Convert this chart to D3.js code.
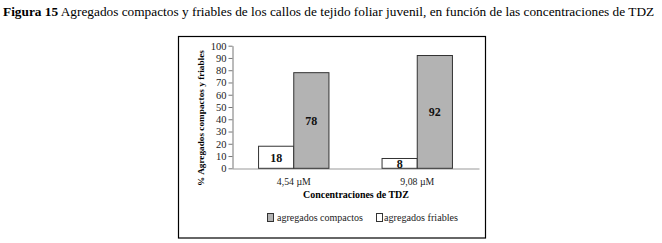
<!DOCTYPE html>
<html><head><meta charset="utf-8">
<script src="https://cdn.jsdelivr.net/npm/d3@7"></script>
<style>body{margin:0;background:#fff}svg{display:block}text{font-family:"Liberation Serif","Times New Roman",serif}</style>
</head><body>
<svg id="c" width="662" height="243"></svg>
<script>
const categories = ["4,54 µM", "9,08 µM"];
const seriesNames = ["agregados friables", "agregados compactos"];
const friables = [18, 8];
const compactos = [78, 92];
const yTicks = [0,10,20,30,40,50,60,70,80,90,100];
const titleBold = "Figura 15";
const titleText = " Agregados compactos y friables de los callos de tejido foliar juvenil, en función de las concentraciones de TDZ";
const xTitle = "Concentraciones de TDZ";
const yTitle = "% Agregados compactos y friables";

const svg = d3.select("#c");
function fit(sel, target, base) {
  sel.attr("font-size", base);
  const w = sel.node().getComputedTextLength();
  if (w > 0) sel.attr("font-size", Math.min(base * 1.3, Math.max(base * 0.75, base * target / w)));
  return sel;
}

const t = svg.append("text").attr("x", 3).attr("y", 16).attr("fill", "#000");
t.append("tspan").attr("font-weight", "bold").text(titleBold);
t.append("tspan").text(titleText);
fit(t, 652, 13);

svg.append("rect").attr("x", 178.5).attr("y", 36.5).attr("width", 307).attr("height", 201.5)
  .attr("fill", "#fff").attr("stroke", "#000").attr("stroke-width", 1.2);

const y = d3.scaleLinear().domain([0, 100]).range([168.3, 45.7]);
const x = d3.scaleBand().domain(categories).range([232, 479]).paddingInner(0.43).paddingOuter(0.215);
const xs = d3.scaleBand().domain(seriesNames).range([0, x.bandwidth()]);

const yAxis = svg.append("g").attr("transform", "translate(232.5,0)")
  .call(d3.axisLeft(y).tickValues(yTicks).tickSize(4).tickSizeOuter(0));
yAxis.select(".domain").attr("stroke", "#777");
yAxis.selectAll(".tick line").attr("stroke", "#777");
yAxis.selectAll(".tick text").attr("font-size", 10.5).attr("fill", "#222").attr("x", -6);

const xAxis = svg.append("g").attr("transform", "translate(0,168.5)")
  .call(d3.axisBottom(x).tickSize(0).tickPadding(10));
xAxis.select(".domain").attr("stroke", "#999");
xAxis.selectAll(".tick text").attr("font-size", 9.8).attr("fill", "#222");

const fills = {"agregados friables": "#fff", "agregados compactos": "#b3b3b3"};
const data = categories.flatMap((c, i) => [
  {c, s: seriesNames[0], v: friables[i]},
  {c, s: seriesNames[1], v: compactos[i]}
]);
svg.append("g").selectAll("rect").data(data).join("rect")
  .attr("x", d => x(d.c) + xs(d.s))
  .attr("y", d => y(d.v))
  .attr("width", xs.bandwidth())
  .attr("height", d => y(0) - y(d.v))
  .attr("fill", d => fills[d.s]).attr("stroke", "#333").attr("stroke-width", 1);
svg.append("g").selectAll("text").data(data).join("text")
  .attr("x", d => x(d.c) + xs(d.s) + xs.bandwidth() / 2)
  .attr("y", d => (y(d.v) + y(0)) / 2 + 4.5)
  .attr("text-anchor", "middle").attr("font-weight", "bold").attr("font-size", 12).attr("fill", "#111")
  .text(d => d.v);

fit(svg.append("text").attr("x", 356).attr("y", 198).attr("text-anchor", "middle")
  .attr("font-weight", "bold").text(xTitle), 106, 11);
fit(svg.append("text").attr("transform", "translate(204,118) rotate(-90)").attr("text-anchor", "middle")
  .attr("font-weight", "bold").text(yTitle), 136, 9.5);

const legend = [
  {name: seriesNames[1], sx: 267, tx: 277, w: 86},
  {name: seriesNames[0], sx: 376, tx: 384, w: 74}
];
legend.forEach(l => {
  svg.append("rect").attr("x", l.sx + 0.5).attr("y", 213.5).attr("width", 6).attr("height", 8)
    .attr("fill", fills[l.name]).attr("stroke", "#333");
  fit(svg.append("text").attr("x", l.tx).attr("y", 221).attr("fill", "#222").text(l.name), l.w, 10.5);
});
</script>
</body></html>
